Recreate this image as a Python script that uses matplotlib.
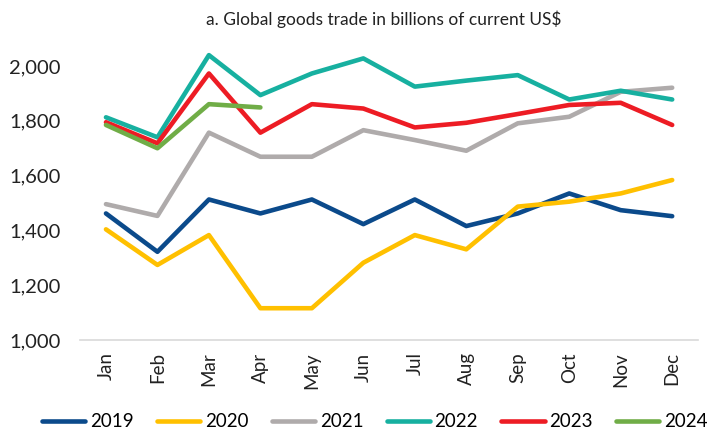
import matplotlib.pyplot as plt
from matplotlib.ticker import FuncFormatter

months = ["Jan", "Feb", "Mar", "Apr", "May", "Jun", "Jul", "Aug", "Sep", "Oct", "Nov", "Dec"]

trade_2019 = [1462, 1322, 1513, 1462, 1513, 1423, 1513, 1416, 1462, 1535, 1474, 1452]
trade_2020 = [1404, 1274, 1383, 1116, 1116, 1282, 1383, 1331, 1487, 1505, 1535, 1584]
trade_2021 = [1496, 1453, 1757, 1669, 1669, 1766, 1730, 1691, 1791, 1815, 1906, 1921]
trade_2022 = [1813, 1740, 2040, 1894, 1973, 2028, 1925, 1947, 1967, 1878, 1910, 1878]
trade_2023 = [1795, 1718, 1973, 1757, 1861, 1845, 1776, 1793, 1825, 1858, 1866, 1785]
trade_2024 = [1785, 1700, 1861, 1849]

series = [
    ("2019", trade_2019, "#0b4a8b"),
    ("2020", trade_2020, "#ffc000"),
    ("2021", trade_2021, "#afabab"),
    ("2022", trade_2022, "#17b0a0"),
    ("2023", trade_2023, "#ed1c24"),
    ("2024", trade_2024, "#70ad47"),
]

plt.rcParams["font.family"] = ["Lato", "DejaVu Sans"]

fig = plt.figure(figsize=(7.1, 4.34), dpi=100)
ax = fig.add_axes([0.113, 0.2166, 0.87, 0.669])

for label, values, color in series:
    ax.plot(months[:len(values)], values, color=color, linewidth=3.3, label=label,
            solid_capstyle="round")

ax.set_ylim(1000, 2060)
ax.set_xlim(-0.5, 11.5)
ax.set_yticks(range(1000, 2001, 200))
ax.yaxis.set_major_formatter(FuncFormatter(lambda v, p: "{:,.0f}".format(v)))
ax.tick_params(axis="y", length=0, labelsize=14.5, pad=14, colors="#222222")
ax.tick_params(axis="x", length=0, labelsize=13.5, rotation=90, pad=9, colors="#222222")

for side in ["top", "right", "left"]:
    ax.spines[side].set_visible(False)
ax.spines["bottom"].set_color("#d9d9d9")
ax.spines["bottom"].set_linewidth(1.2)

fig.text(0.54, 0.955, "a. Global goods trade in billions of current US$",
         ha="center", va="center", fontsize=12.5, color="#222222")

fig.legend(loc="lower center", ncol=6, frameon=False, fontsize=13.5,
           bbox_to_anchor=(0.528, -0.03), handlelength=2.3, handletextpad=0.25,
           columnspacing=1.25)

fig.savefig("out.png", dpi=100)
